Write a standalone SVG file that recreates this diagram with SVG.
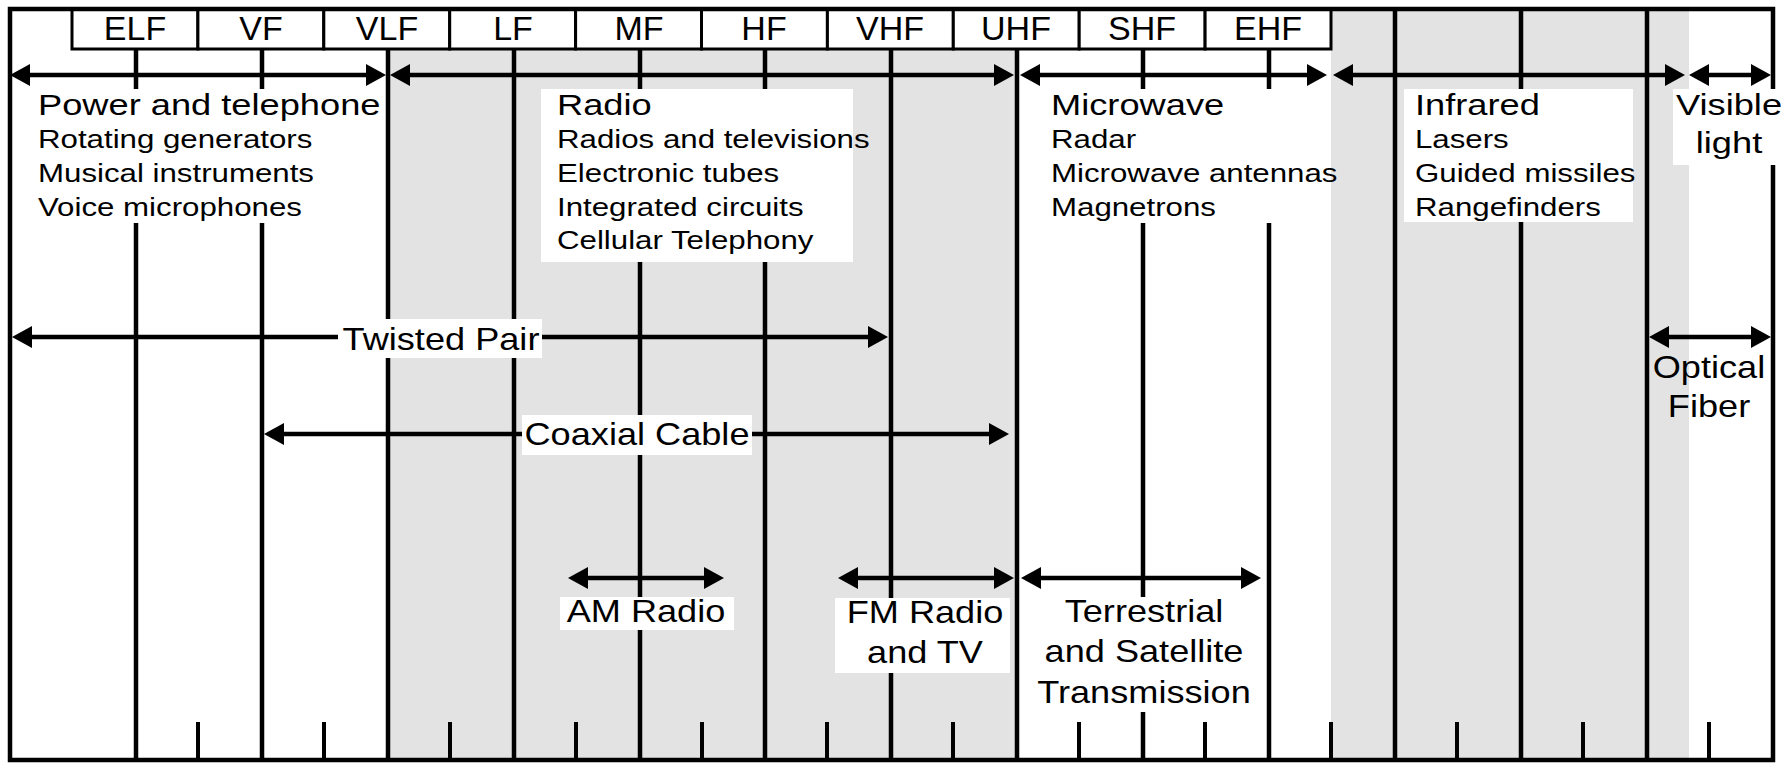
<svg xmlns="http://www.w3.org/2000/svg" width="1792" height="763" viewBox="0 0 1792 763">
<defs>
<marker id="ah" viewBox="0 0 20 22" refX="10" refY="11" markerWidth="20" markerHeight="22" markerUnits="userSpaceOnUse" orient="auto-start-reverse">
<path d="M0,0 L20,11 L0,22 z" fill="#000"/>
</marker>
<style>
text{font-family:"Liberation Sans",Arial,sans-serif;fill:#000}
.bl{font-size:34px;text-anchor:middle}
.h{font-size:29px}
.s{font-size:25px}
.L{font-size:32px}
.m{text-anchor:middle}
.cell{fill:#fff;stroke:#000;stroke-width:3}
.vl{stroke:#000;stroke-width:4.5}
.tk{stroke:#000;stroke-width:4}
.wb{fill:#fff}
.gray{fill:#e3e3e3}
.arr{stroke:#000;stroke-width:4.5;fill:none;marker-start:url(#ah);marker-end:url(#ah)}
</style>
</defs>
<rect x="0" y="0" width="1792" height="763" fill="#fff"/>
<g id="shading">
<rect class="gray" x="388" y="49" width="629" height="712"/>
<rect class="gray" x="1331" y="9" width="358" height="752"/>
</g>
<g id="grid">
<line class="vl" x1="136" y1="49" x2="136" y2="760"/>
<line class="vl" x1="262" y1="49" x2="262" y2="760"/>
<line class="vl" x1="388" y1="49" x2="388" y2="760"/>
<line class="vl" x1="514" y1="49" x2="514" y2="760"/>
<line class="vl" x1="640" y1="49" x2="640" y2="760"/>
<line class="vl" x1="765" y1="49" x2="765" y2="760"/>
<line class="vl" x1="891" y1="49" x2="891" y2="760"/>
<line class="vl" x1="1017" y1="49" x2="1017" y2="760"/>
<line class="vl" x1="1143" y1="49" x2="1143" y2="760"/>
<line class="vl" x1="1269" y1="49" x2="1269" y2="760"/>
<line class="vl" x1="1395" y1="9" x2="1395" y2="760"/>
<line class="vl" x1="1521" y1="9" x2="1521" y2="760"/>
<line class="vl" x1="1647" y1="9" x2="1647" y2="760"/>
<line class="tk" x1="198" y1="722" x2="198" y2="760"/>
<line class="tk" x1="324" y1="722" x2="324" y2="760"/>
<line class="tk" x1="450" y1="722" x2="450" y2="760"/>
<line class="tk" x1="576" y1="722" x2="576" y2="760"/>
<line class="tk" x1="702" y1="722" x2="702" y2="760"/>
<line class="tk" x1="827" y1="722" x2="827" y2="760"/>
<line class="tk" x1="953" y1="722" x2="953" y2="760"/>
<line class="tk" x1="1079" y1="722" x2="1079" y2="760"/>
<line class="tk" x1="1205" y1="722" x2="1205" y2="760"/>
<line class="tk" x1="1331" y1="722" x2="1331" y2="760"/>
<line class="tk" x1="1457" y1="722" x2="1457" y2="760"/>
<line class="tk" x1="1583" y1="722" x2="1583" y2="760"/>
<line class="tk" x1="1709" y1="722" x2="1709" y2="760"/>
</g>
<g id="bands">
<g id="band-elf"><rect class="cell" x="72" y="9" width="125.9" height="40"/><text class="bl" x="135" y="40">ELF</text></g>
<g id="band-vf"><rect class="cell" x="197.9" y="9" width="125.9" height="40"/><text class="bl" x="261" y="40">VF</text></g>
<g id="band-vlf"><rect class="cell" x="323.8" y="9" width="125.9" height="40"/><text class="bl" x="387" y="40">VLF</text></g>
<g id="band-lf"><rect class="cell" x="449.7" y="9" width="125.9" height="40"/><text class="bl" x="513" y="40">LF</text></g>
<g id="band-mf"><rect class="cell" x="575.6" y="9" width="125.9" height="40"/><text class="bl" x="639" y="40">MF</text></g>
<g id="band-hf"><rect class="cell" x="701.5" y="9" width="125.9" height="40"/><text class="bl" x="764" y="40">HF</text></g>
<g id="band-vhf"><rect class="cell" x="827.4" y="9" width="125.9" height="40"/><text class="bl" x="890" y="40">VHF</text></g>
<g id="band-uhf"><rect class="cell" x="953.3" y="9" width="125.9" height="40"/><text class="bl" x="1016" y="40">UHF</text></g>
<g id="band-shf"><rect class="cell" x="1079.2" y="9" width="125.9" height="40"/><text class="bl" x="1142" y="40">SHF</text></g>
<g id="band-ehf"><rect class="cell" x="1205.1" y="9" width="125.9" height="40"/><text class="bl" x="1268" y="40">EHF</text></g>
</g>
<rect id="frame" x="10" y="9" width="1763" height="751" fill="none" stroke="#000" stroke-width="4.5"/>
<g id="connectors">
<line class="arr" x1="20" y1="75" x2="376" y2="75"/>
<line class="arr" x1="400" y1="75" x2="1004" y2="75"/>
<line class="arr" x1="1030" y1="75" x2="1317" y2="75"/>
<line class="arr" x1="1343" y1="75" x2="1675" y2="75"/>
<line class="arr" x1="1699" y1="75" x2="1761" y2="75"/>
<line class="arr" x1="22" y1="337" x2="878" y2="337"/>
<line class="arr" x1="1659" y1="337" x2="1761" y2="337"/>
<line class="arr" x1="274" y1="434" x2="999" y2="434"/>
<line class="arr" x1="578" y1="578" x2="714" y2="578"/>
<line class="arr" x1="848" y1="578" x2="1004" y2="578"/>
<line class="arr" x1="1031" y1="578" x2="1251" y2="578"/>
</g>
<g id="power">
<rect class="wb" x="20" y="89" width="363" height="134"/>
<text class="h" transform="translate(38 115) scale(1.25 1)">Power and telephone</text>
<text class="s" transform="translate(38 148) scale(1.25 1)">Rotating generators</text>
<text class="s" transform="translate(38 182) scale(1.25 1)">Musical instruments</text>
<text class="s" transform="translate(38 216) scale(1.25 1)">Voice microphones</text>
</g>
<g id="radio">
<rect class="wb" x="541" y="89" width="312" height="173"/>
<text class="h" transform="translate(557 115) scale(1.25 1)">Radio</text>
<text class="s" transform="translate(557 148) scale(1.25 1)">Radios and televisions</text>
<text class="s" transform="translate(557 182) scale(1.25 1)">Electronic tubes</text>
<text class="s" transform="translate(557 216) scale(1.25 1)">Integrated circuits</text>
<text class="s" transform="translate(557 249) scale(1.25 1)">Cellular Telephony</text>
</g>
<g id="microwave">
<rect class="wb" x="1040" y="89" width="289" height="134"/>
<text class="h" transform="translate(1051 115) scale(1.25 1)">Microwave</text>
<text class="s" transform="translate(1051 148) scale(1.25 1)">Radar</text>
<text class="s" transform="translate(1051 182) scale(1.25 1)">Microwave antennas</text>
<text class="s" transform="translate(1051 216) scale(1.25 1)">Magnetrons</text>
</g>
<g id="infrared">
<rect class="wb" x="1404" y="89" width="229" height="133"/>
<text class="h" transform="translate(1415 115) scale(1.25 1)">Infrared</text>
<text class="s" transform="translate(1415 148) scale(1.25 1)">Lasers</text>
<text class="s" transform="translate(1415 182) scale(1.25 1)">Guided missiles</text>
<text class="s" transform="translate(1415 216) scale(1.25 1)">Rangefinders</text>
</g>
<g id="visible">
<rect class="wb" x="1673" y="89" width="119" height="76"/>
<text class="h m" transform="translate(1729 115) scale(1.25 1)">Visible</text>
<text class="h m" transform="translate(1729 153) scale(1.25 1)">light</text>
</g>
<g id="twisted-pair">
<rect class="wb" x="338" y="319" width="204" height="39"/>
<text class="L m" transform="translate(441 350) scale(1.13 1)">Twisted Pair</text>
</g>
<g id="coaxial-cable">
<rect class="wb" x="522" y="415" width="230" height="40"/>
<text class="L m" transform="translate(637 445) scale(1.13 1)">Coaxial Cable</text>
</g>
<g id="optical-fiber">
<text class="L m" transform="translate(1709 378) scale(1.13 1)">Optical</text>
<text class="L m" transform="translate(1709 417) scale(1.13 1)">Fiber</text>
</g>
<g id="am-radio">
<rect class="wb" x="560" y="597" width="174" height="33"/>
<text class="L m" transform="translate(646 622) scale(1.13 1)">AM Radio</text>
</g>
<g id="fm-radio">
<rect class="wb" x="835" y="598" width="175" height="75"/>
<text class="L m" transform="translate(925 623) scale(1.13 1)">FM Radio</text>
<text class="L m" transform="translate(925 663) scale(1.13 1)">and TV</text>
</g>
<g id="terrestrial">
<rect class="wb" x="1035" y="597" width="220" height="115"/>
<text class="L m" transform="translate(1144 622) scale(1.13 1)">Terrestrial</text>
<text class="L m" transform="translate(1144 662) scale(1.13 1)">and Satellite</text>
<text class="L m" transform="translate(1144 703) scale(1.13 1)">Transmission</text>
</g>
</svg>
